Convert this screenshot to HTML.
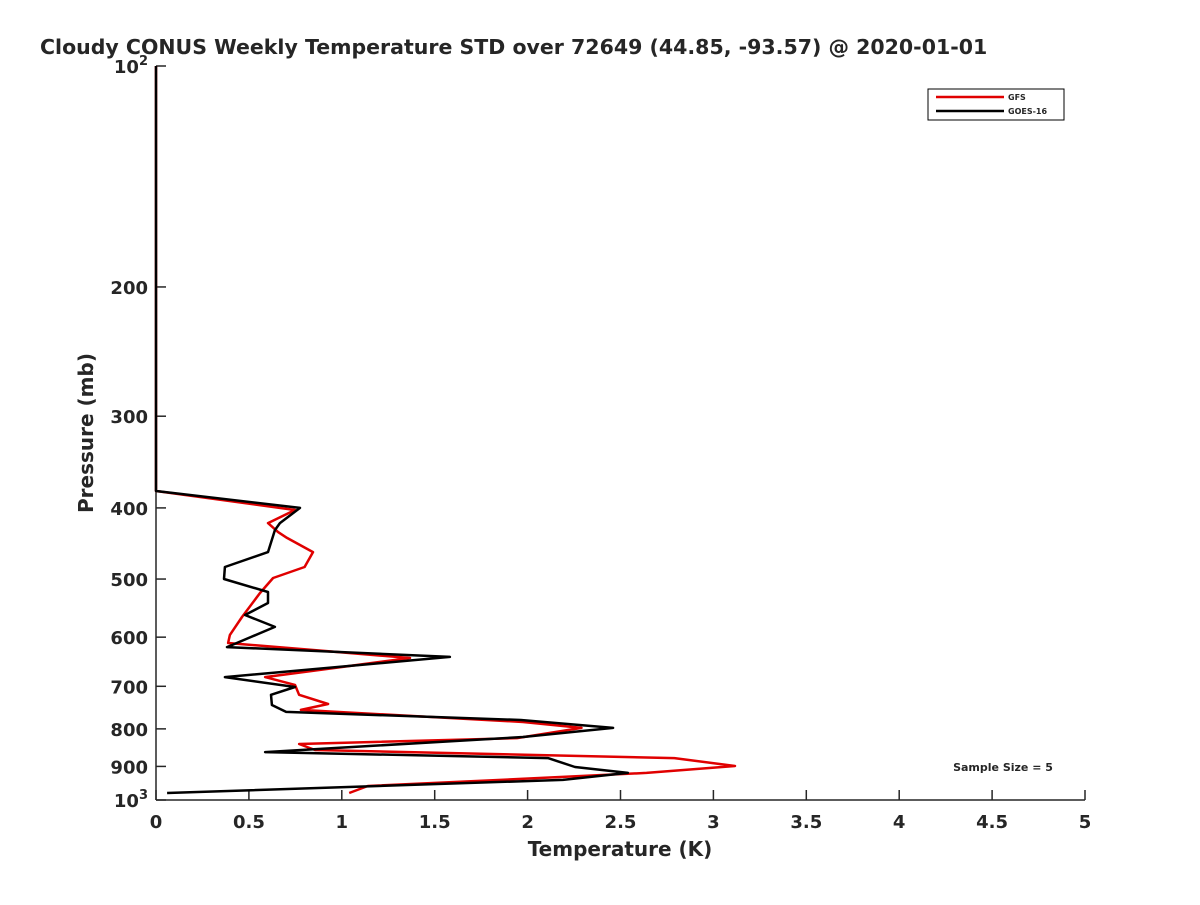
<!DOCTYPE html>
<html><head><meta charset="utf-8"><style>
body{margin:0;background:#fff}
text{font-family:"DejaVu Sans","Liberation Sans",sans-serif;font-weight:bold;fill:#262626}
</style></head><body>
<svg id="chart" width="1200" height="900" xmlns="http://www.w3.org/2000/svg">
<rect width="1200" height="900" fill="#fff"/>
<text x="40" y="54" font-size="20.5" fill="#000">Cloudy CONUS Weekly Temperature STD over 72649 (44.85, -93.57) @ 2020-01-01</text>
<g id="axes"></g>
<g id="series"></g>
<text x="620" y="856" font-size="20" text-anchor="middle">Temperature (K)</text>
<text transform="translate(93,433) rotate(-90)" font-size="20" text-anchor="middle">Pressure (mb)</text>
<g>
<rect x="928" y="89" width="136" height="31" fill="#fff" stroke="#000" stroke-width="1"/>
<line x1="936" y1="97" x2="1004" y2="97" stroke="#e00000" stroke-width="2.5"/>
<text x="1008" y="100" font-size="8" fill="#000">GFS</text>
<line x1="936" y1="111" x2="1004" y2="111" stroke="#000" stroke-width="2.5"/>
<text x="1008" y="114" font-size="8" fill="#000">GOES-16</text>
</g>
<text x="1003" y="771" font-size="11" text-anchor="middle" fill="#000">Sample Size = 5</text>
</svg>
<script>
const xTicks=[0,0.5,1,1.5,2,2.5,3,3.5,4,4.5,5];
const xTickLabels=["0","0.5","1","1.5","2","2.5","3","3.5","4","4.5","5"];
const yTicks=[100,200,300,400,500,600,700,800,900,1000];
const yTickLabels=["10|2","200","300","400","500","600","700","800","900","10|3"];
const gfsPressure=[100,379.3,402.6,419.5,431.5,439.5,459.5,481.5,498.3,522.4,563.3,595.7,611,640.6,680,697,719,740,753.7,783,797.5,823.4,839,854.8,876.8,898.8,918.5,936,957,978.4];
const gfsTemp=[0,0,0.748,0.603,0.657,0.705,0.845,0.80,0.63,0.56,0.463,0.398,0.388,1.367,0.587,0.748,0.77,0.926,0.78,1.975,2.29,1.943,0.77,0.856,2.79,3.116,2.64,1.964,1.14,1.04];
const goesPressure=[100,379.3,400,419.5,428.8,459.5,481.5,500,520.7,539,559.7,581,619,638.4,680,701.5,719,742.4,758.6,778,797.5,820.6,860.4,876.8,901.6,918.5,939,978.4];
const goesTemp=[0,0,0.775,0.667,0.64,0.603,0.371,0.366,0.603,0.603,0.479,0.64,0.382,1.582,0.371,0.748,0.619,0.624,0.70,1.964,2.46,1.975,0.587,2.11,2.255,2.54,2.19,0.06];
const X0=156,X1=1085,Y0=66,Y1=800;
const xs=v=>X0+(v-0)/5*(X1-X0);
const ys=p=>Y0+(Math.log10(p)-2)*(Y1-Y0);
const NS="http://www.w3.org/2000/svg";
const axes=document.getElementById('axes'),series=document.getElementById('series');
function mk(t,a,parent){const e=document.createElementNS(NS,t);for(const k in a)e.setAttribute(k,a[k]);parent.appendChild(e);return e;}
let l=mk('line',{x1:X0,y1:Y0,x2:X0,y2:Y1,stroke:'#262626','stroke-width':1.5},axes);


l=mk('line',{x1:X0,y1:Y1,x2:X1,y2:Y1,stroke:'#262626','stroke-width':1.5},axes);


xTicks.forEach((v,i)=>{
 const t=mk('line',{x1:xs(v),y1:Y1,x2:xs(v),y2:Y1-10,stroke:'#262626','stroke-width':1.5},axes);
 
 
 const tx=mk('text',{x:xs(v),y:Y1+28,'font-size':18,'text-anchor':'middle'},axes);
 tx.textContent=xTickLabels[i];
 
 
});
yTicks.forEach((v,i)=>{
 const t=mk('line',{x1:X0,y1:ys(v),x2:X0+10,y2:ys(v),stroke:'#262626','stroke-width':1.5},axes);
 
 
 const parts=yTickLabels[i].split('|');
 const tx=mk('text',{x:X0-8,y:ys(v)+7,'font-size':18,'text-anchor':'end'},axes);
 
 
 if(parts.length>1){
  const a=mk('tspan',{},tx);a.textContent=parts[0];
  const b=mk('tspan',{dy:-8,'font-size':13},tx);b.textContent=parts[1];
 } else tx.textContent=parts[0];
});
function line(P,T,color,name){
 const d=P.map((p,i)=>(i?'L':'M')+xs(T[i]).toFixed(1)+','+ys(p).toFixed(1)).join('');
 const e=mk('path',{d:d,fill:'none',stroke:color,'stroke-width':2.5,'stroke-linejoin':'round'},series);
 
 
}
line(gfsPressure,gfsTemp,'#e00000','gfs-line');
line(goesPressure,goesTemp,'#000000','goes-16-line');
</script>
</body></html>
